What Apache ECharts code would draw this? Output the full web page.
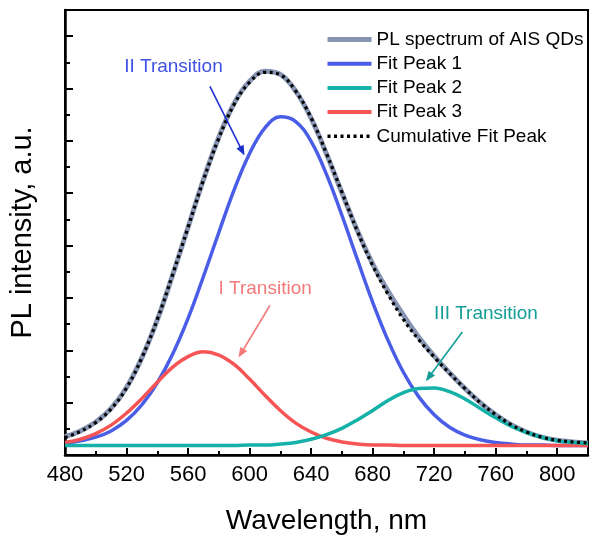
<!DOCTYPE html>
<html><head><meta charset="utf-8">
<script src="https://cdn.jsdelivr.net/npm/echarts@6/dist/echarts.min.js"></script>
<style>html,body{margin:0;padding:0;background:#fff}#c{width:590px;height:540px}</style>
</head><body><div id="c"></div>
<script>
const wavelength = [480,490,500,510,520,530,540,550,560,570,580,590,600,610,620,630,640,650,660,670,680,690,700,710,720,730,740,750,760,770,780,790,800,810,820];
const plSpectrum = [0.35,0.46,0.63,0.89,1.29,1.86,2.58,3.44,4.35,5.26,6.07,6.72,7.14,7.33,7.27,6.95,6.43,5.75,5.01,4.29,3.65,3.13,2.67,2.25,1.89,1.57,1.27,1.00,0.77,0.58,0.44,0.34,0.28,0.25,0.23];
const fitPeak1 = [0.22,0.27,0.34,0.46,0.66,0.96,1.38,1.93,2.61,3.41,4.25,5.07,5.76,6.25,6.46,6.37,5.99,5.36,4.58,3.74,2.92,2.19,1.58,1.11,0.77,0.53,0.38,0.29,0.24,0.21,0.19,0.19,0.18,0.18,0.18];
const fitPeak2 = [0.18,0.18,0.18,0.18,0.18,0.18,0.18,0.18,0.18,0.18,0.18,0.18,0.19,0.19,0.21,0.24,0.30,0.39,0.51,0.67,0.85,1.04,1.19,1.27,1.28,1.21,1.07,0.89,0.71,0.55,0.43,0.34,0.27,0.24,0.22];
const fitPeak3 = [0.24,0.30,0.41,0.57,0.80,1.08,1.39,1.68,1.88,1.97,1.91,1.73,1.45,1.14,0.85,0.61,0.44,0.32,0.25,0.21,0.19,0.19,0.18,0.18,0.18,0.18,0.18,0.18,0.18,0.18,0.18,0.18,0.18,0.18,0.18];
const cumulativeFit = [0.33,0.45,0.62,0.88,1.28,1.86,2.59,3.45,4.35,5.25,6.05,6.70,7.12,7.31,7.26,6.95,6.44,5.76,5.02,4.28,3.62,3.07,2.59,2.20,1.87,1.56,1.27,1.00,0.77,0.58,0.44,0.34,0.28,0.25,0.23];
const xTicks = [480,520,560,600,640,680,720,760,800];
const xMinorTicks = [500,540,580,620,660,700,740,780];
const yTicks = [0,1,2,3,4,5,6,7,8];
const yMinorTicks = [0.5,1.5,2.5,3.5,4.5,5.5,6.5,7.5];
const seriesNames = ['PL spectrum of AIS QDs','Fit Peak 1','Fit Peak 2','Fit Peak 3','Cumulative Fit Peak'];
const seriesColors = ['#8795b3','#4a5de6','#15b0a8','#f75555','#000000'];
const annotations = [
  {text:'II Transition', color:'#3f52e3', arrowColor:'#1e30cc', textAt:[550.5,7.42], from:[574.2,7.04], to:[596.7,5.72]},
  {text:'I Transition', color:'#f57a7a', arrowColor:'#f57a7a', textAt:[610.1,3.18], from:[613.3,2.86], to:[592.8,1.86]},
  {text:'III Transition', color:'#129e97', arrowColor:'#129e97', textAt:[753.7,2.69], from:[738.3,2.35], to:[714.6,1.41]}
];

const FONT = '"Liberation Sans", Arial, sans-serif';
const pairs = arr => wavelength.map((w,i)=>[w,arr[i]]);
const chart = echarts.init(document.getElementById('c'), null, {renderer:'canvas'});

function lineSeries(name, data, color, width, extra) {
  return Object.assign({
    name, type:'line', data:pairs(data), smooth:0.4, symbol:'none', showSymbol:false,
    xAxisIndex:0, yAxisIndex:0,
    lineStyle:{color, width}, itemStyle:{color}, emphasis:{disabled:true}
  }, extra||{});
}

const legendWidths = [5,4,4,4,3.5];
const option = {
  animation:false,
  textStyle:{fontFamily:FONT},
  grid:{left:60, right:2, top:10, bottom:78, show:true, borderColor:'#000', borderWidth:2, backgroundColor:'transparent'},
  legend:{
    data:seriesNames.map((n,i)=>({name:n,
      lineStyle:{color:seriesColors[i], width:legendWidths[i], type: i===4 ? [3,3.5] : 'solid'},
      itemStyle:{opacity:0}})),
    orient:'vertical', left:325, top:30, padding:0,
    itemWidth:44, itemHeight:14, itemGap:5.2,
    itemStyle:{opacity:0},
    textStyle:{fontSize:19, color:'#000', fontFamily:FONT}
  },
  xAxis:[
    {type:'value', min:480, max:820, position:'bottom',
     axisLine:{onZero:false, lineStyle:{color:'#000', width:2.5}},
     axisTick:{inside:true, length:7, customValues:xTicks, lineStyle:{color:'#000', width:2}},
     axisLabel:{customValues:xTicks, fontSize:22, color:'#000', margin:9, fontFamily:FONT},
     splitLine:{show:false},
     name:'Wavelength, nm', nameLocation:'middle', nameGap:52,
     nameTextStyle:{fontSize:28, color:'#000', fontFamily:FONT}},
    {type:'value', min:480, max:820, position:'bottom',
     axisLine:{show:false, onZero:false},
     axisTick:{inside:true, length:4, customValues:xMinorTicks, lineStyle:{color:'#000', width:2}},
     axisLabel:{show:false}, splitLine:{show:false}}
  ],
  yAxis:[
    {type:'value', min:0, max:8.5, position:'left',
     axisLine:{show:true, onZero:false, lineStyle:{color:'#000', width:2.5}},
     axisTick:{inside:true, length:8, customValues:yTicks, lineStyle:{color:'#000', width:2}},
     axisLabel:{show:false}, splitLine:{show:false},
     name:'PL intensity, a.u.', nameLocation:'middle', nameGap:28,
     nameTextStyle:{fontSize:29, color:'#000', fontFamily:FONT}},
    {type:'value', min:0, max:8.5, position:'left',
     axisLine:{show:false, onZero:false},
     axisTick:{inside:true, length:5, customValues:yMinorTicks, lineStyle:{color:'#000', width:2}},
     axisLabel:{show:false}, splitLine:{show:false}}
  ],
  series:[
    lineSeries(seriesNames[0], plSpectrum, seriesColors[0], 5, {z:2}),
    lineSeries(seriesNames[1], fitPeak1, seriesColors[1], 3.5, {z:3}),
    lineSeries(seriesNames[3], fitPeak3, seriesColors[3], 3.5, {z:4}),
    lineSeries(seriesNames[2], fitPeak2, seriesColors[2], 3.5, {z:5}),
    lineSeries(seriesNames[4], cumulativeFit, '#000', 3.2, {z:6, lineStyle:{color:'#000', width:3.2, type:[3,3.5]}})
  ]
};
chart.setOption(option);

const graphics = [];
annotations.forEach(a=>{
  const t = chart.convertToPixel({gridIndex:0}, a.textAt);
  const p0 = chart.convertToPixel({gridIndex:0}, a.from);
  const p1 = chart.convertToPixel({gridIndex:0}, a.to);
  graphics.push({type:'text', z:10, style:{text:a.text, x:t[0], y:t[1], fill:a.color, font:'19px '+FONT, align:'center', verticalAlign:'middle'}});
  const dx = p1[0]-p0[0], dy = p1[1]-p0[1], L = Math.hypot(dx,dy), ux = dx/L, uy = dy/L;
  const hl = 10, hw = 4;
  const bx = p1[0]-ux*hl, by = p1[1]-uy*hl;
  graphics.push({type:'line', z:10, shape:{x1:p0[0], y1:p0[1], x2:bx+ux*2, y2:by+uy*2}, style:{stroke:a.arrowColor, lineWidth:1.6}});
  graphics.push({type:'polygon', z:10, shape:{points:[[p1[0],p1[1]],[bx-uy*hw, by+ux*hw],[bx+uy*hw, by-ux*hw]]}, style:{fill:a.arrowColor}});
});
chart.setOption({graphic:graphics});
</script>
</body></html>
